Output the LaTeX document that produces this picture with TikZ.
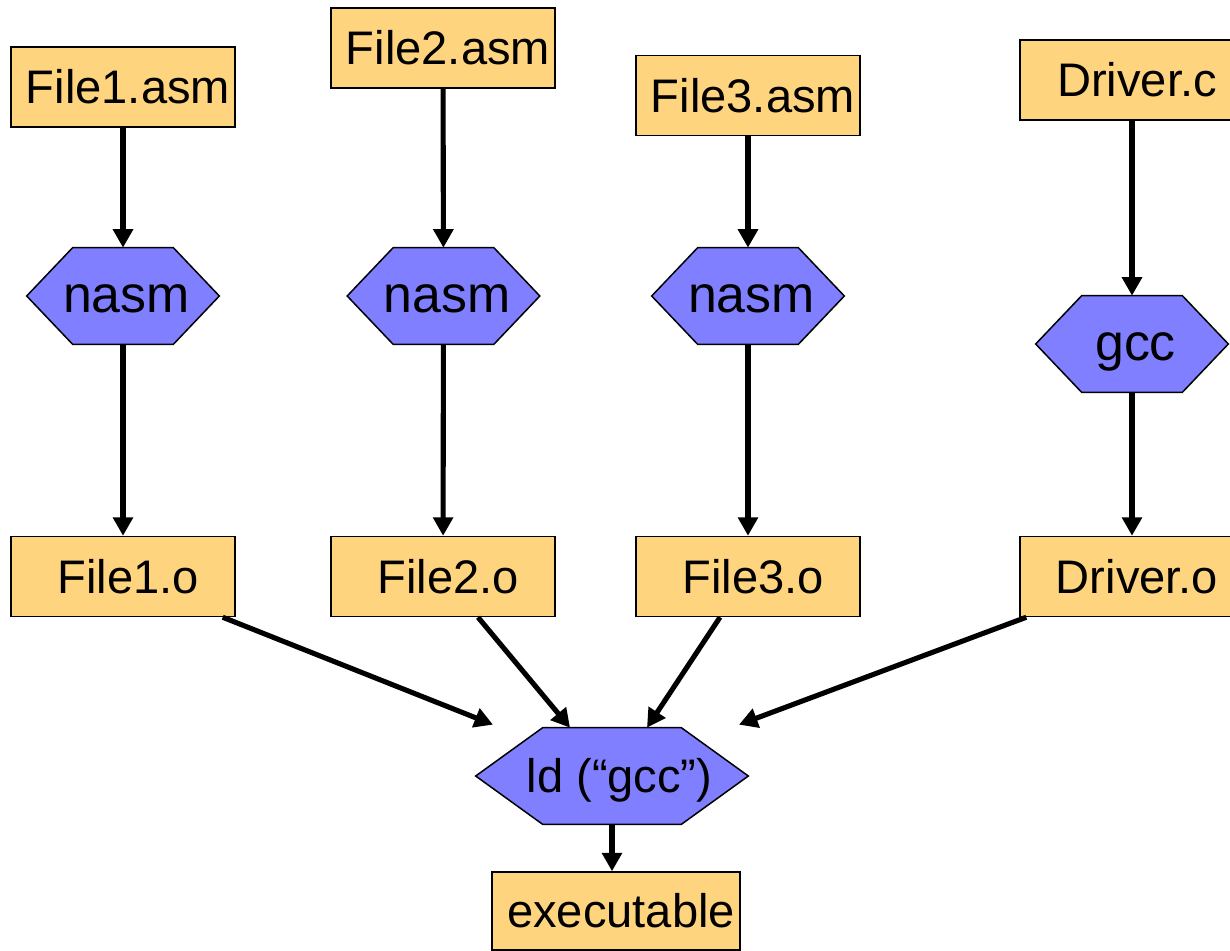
\documentclass[tikz,border=0pt]{standalone}
\usepackage{fontspec}
\setmainfont{Liberation Sans}
\usetikzlibrary{arrows.meta,calc,backgrounds}
\definecolor{boxfill}{RGB}{255,212,127}
\definecolor{hexfill}{RGB}{127,127,255}
\tikzset{
  filebox/.style={draw=black, line width=0.85pt, fill=boxfill, minimum width=4.48cm, minimum height=1.6cm, inner sep=0pt, font=\fontsize{26.8}{30}\selectfont, execute at begin node={\kern0.2cm}},
  tool/.style={minimum width=3.84cm, minimum height=1.92cm, inner sep=0pt, font=\fontsize{29.5}{32}\selectfont, text height=0.64cm, text depth=0pt, execute at begin node={\kern0.14cm}},
  hexshape/.style={draw=black, line width=0.85pt, fill=hexfill, line join=miter},
  conn/.style={line width=2.9pt, -{Triangle[length=0.37cm,width=0.39cm]}}
}
\newcommand{\hexa}[2]{%
  \path[hexshape] (#1.west) -- ($(#1.north west)+(#2,0)$) -- ($(#1.north east)+(-#2,0)$) -- (#1.east) -- ($(#1.south east)+(-#2,0)$) -- ($(#1.south west)+(#2,0)$) -- cycle;}
\begin{document}
\begin{tikzpicture}[x=0.02cm,y=-0.02cm]
\useasboundingbox (0,0) rectangle (1230,950);
\begin{scope}
\clip (0,0) rectangle (1230,950);
% source files
\node[filebox] (f1a) at (123,87) {File1.asm};
\node[filebox] (f2a) at (443,48) {File2.asm};
\node[filebox] (f3a) at (748,95.5) {File3.asm};
\node[filebox] (dc) at (1132,80) {Driver.c};
% tools
\node[tool] (n1) at (123,296) {nasm};
\node[tool] (n2) at (443.5,296) {nasm};
\node[tool] (n3) at (748,296) {nasm};
\node[tool] (gcc) at (1132,344) {gcc};
\node[tool, minimum width=5.44cm, font=\fontsize{26.8}{30}\selectfont, text height=0.67cm, execute at begin node={\kern0.16cm}] (ld) at (612,776) {ld (“gcc”)};
\begin{scope}[on background layer]
\hexa{n1}{46}
\hexa{n2}{46}
\hexa{n3}{46}
\hexa{gcc}{46}
\hexa{ld}{67}
\end{scope}
% object files
\node[filebox] (f1o) at (123,576.5) {File1.o};
\node[filebox] (f2o) at (443,576.5) {File2.o};
\node[filebox] (f3o) at (748,576.5) {File3.o};
\node[filebox] (dob) at (1132,576.5) {Driver.o};
\node[filebox, minimum width=4.96cm, minimum height=1.56cm] (exe) at (616,911) {executable};
% connectors
\draw[conn] (f1a) -- (n1);
\draw[conn] (f2a) -- (n2);
\draw[conn] (f3a) -- (n3);
\draw[conn] (dc) -- (gcc);
\draw[conn] (n1) -- (f1o);
\draw[conn] (n2) -- (f2o);
\draw[conn] (n3) -- (f3o);
\draw[conn] (gcc) -- (dob);
\coordinate (s1) at ($(f1o.south east)+(-13,0)$);
\coordinate (s2) at ($(f2o.south)+(35,0)$);
\coordinate (s3) at ($(f3o.south)+(-28,0)$);
\coordinate (s4) at ($(dob.south west)+(7,0)$);
\coordinate (e1) at ($(ld.north)+(-119,-3)$);
\coordinate (e2) at ($(ld.north)+(-42,0)$);
\coordinate (e3) at ($(ld.north)+(35,0)$);
\coordinate (e4) at ($(ld.north)+(127,-3)$);
\draw[conn] (s1) -- (e1);
\draw[conn] (s2) -- (e2);
\draw[conn] (s3) -- (e3);
\draw[conn] (s4) -- (e4);
\draw[conn] (ld.south) -- (ld.south |- exe.north);
\end{scope}
\end{tikzpicture}
\end{document}
